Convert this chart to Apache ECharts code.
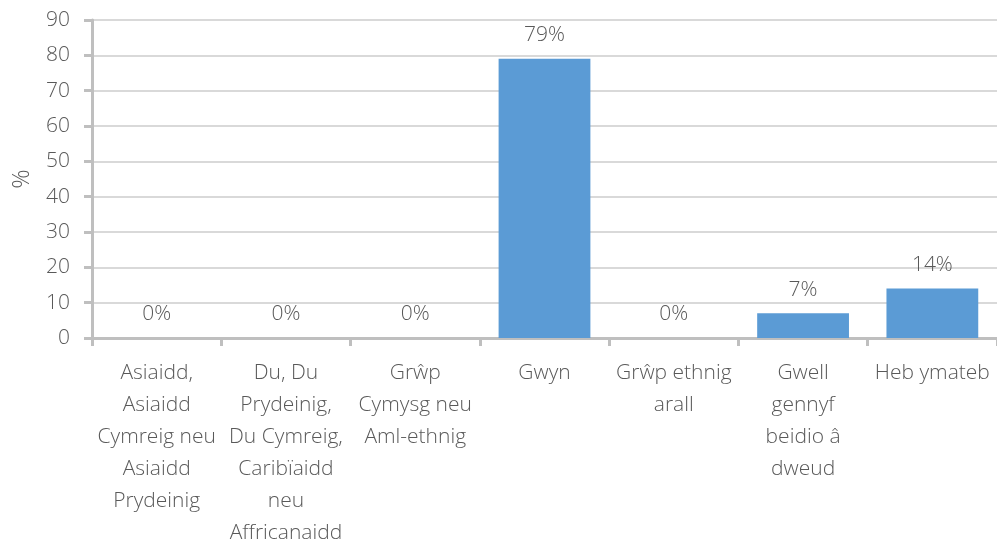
<!DOCTYPE html>
<html>
<head>
<meta charset="utf-8">
<script src="https://cdn.jsdelivr.net/npm/echarts@6/dist/echarts.min.js"></script>
<style>
  html, body { margin: 0; padding: 0; background: #fff; }
  #chart { width: 997px; height: 544px; }
</style>
</head>
<body>
<div id="chart"></div>
<script>
// categories (line breaks as in the original)
const categories = [
  'Asiaidd,\nAsiaidd\nCymreig neu\nAsiaidd\nPrydeinig',
  'Du, Du\nPrydeinig,\nDu Cymreig,\nCaribïaidd\nneu\nAffricanaidd',
  'Grŵp\nCymysg neu\nAml-ethnig',
  'Gwyn',
  'Grŵp ethnig\narall',
  'Gwell\ngennyf\nbeidio â\ndweud',
  'Heb ymateb'
]
const values = [0, 0, 0, 79, 0, 7, 14]
const yTicks = [0, 10, 20, 30, 40, 50, 60, 70, 80, 90]

const font = '"Open Sans", "Noto Sans", sans-serif'
const textColor = '#595959'

const chart = echarts.init(document.getElementById('chart'))
chart.setOption({
  animation: false,
  grid: {
    left: 92,
    right: 0,
    top: 20,
    bottom: 206,
    containLabel: false,
    outerBoundsMode: 'none'
  },
  xAxis: {
    type: 'category',
    data: categories,
    axisLine: { lineStyle: { color: '#bfbfbf', width: 3 } },
    axisTick: { show: true, alignWithLabel: false, length: 8, lineStyle: { color: '#bfbfbf', width: 3 } },
    axisLabel: {
      interval: 0,
      margin: 19,
      color: textColor,
      fontFamily: font,
      fontWeight: 300,
      fontSize: 21,
      lineHeight: 32
    }
  },
  yAxis: {
    type: 'value',
    min: yTicks[0],
    max: yTicks[yTicks.length - 1],
    interval: 10,
    name: '%',
    nameLocation: 'middle',
    nameGap: 58,
    nameRotate: 90,
    nameTextStyle: { color: textColor, fontFamily: font, fontWeight: 300, fontSize: 24 },
    axisLine: { show: true, lineStyle: { color: '#bfbfbf', width: 3 } },
    axisTick: { show: true, length: 8, lineStyle: { color: '#bfbfbf', width: 3 } },
    splitLine: { lineStyle: { color: '#d9d9d9', width: 2 } },
    axisLabel: {
      margin: 22,
      color: textColor,
      fontFamily: font,
      fontWeight: 300,
      fontSize: 21
    }
  },
  series: [{
    type: 'bar',
    data: values,
    barCategoryGap: '29%',
    itemStyle: { color: '#5b9bd5' },
    label: {
      show: true,
      position: 'top',
      distance: 13,
      formatter: '{c}%',
      color: textColor,
      fontFamily: font,
      fontWeight: 300,
      fontSize: 21
    }
  }]
})
</script>
</body>
</html>
